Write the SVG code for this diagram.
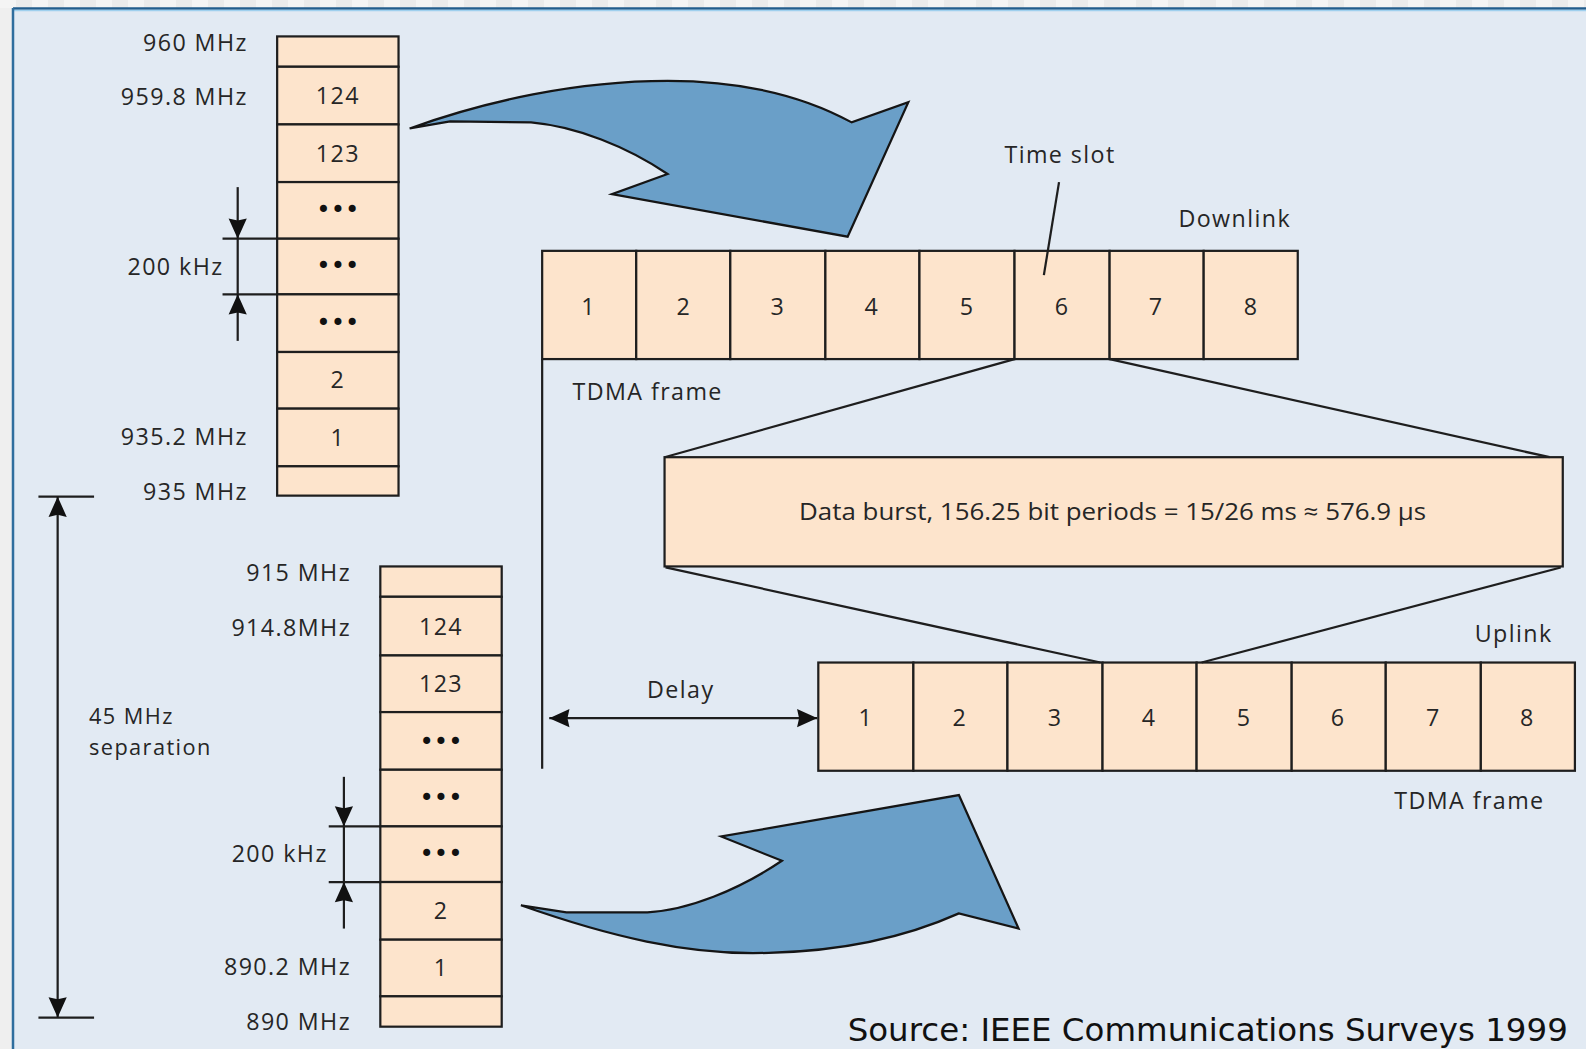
<svg xmlns="http://www.w3.org/2000/svg" width="1586" height="1049" viewBox="0 0 1586 1049">
<defs>
<pattern id="chk" x="0" y="0" width="32" height="8" patternUnits="userSpaceOnUse">
<rect x="0" y="0" width="16" height="8" fill="#f4f4f4"/>
<rect x="16" y="0" width="16" height="8" fill="#ebebeb"/>
</pattern>
<marker id="ah" viewBox="-22 -11 22 22" refX="0" refY="0" markerWidth="22" markerHeight="22" markerUnits="userSpaceOnUse" orient="auto-start-reverse">
<path d="M0,0 L-20,-9 L-18,0 L-20,9 Z" fill="#111"/>
</marker>
</defs>
<style>
.cell{fill:#fde4cc;stroke:#1e1e1e;stroke-width:2.2}
.ln{stroke:#1e1e1e;stroke-width:2.2;fill:none}
.t{font-family:"Open Sans","Noto Sans","Liberation Sans",sans-serif;font-size:23px;letter-spacing:1.4px;fill:#262626}
.sm{font-size:21.5px}
.c{text-anchor:middle}
.e{text-anchor:end}
.dots{font-family:"DejaVu Sans",sans-serif;font-size:24px;fill:#111;text-anchor:middle}
.big{fill:#6a9fc8;stroke:#151515;stroke-width:2.2;stroke-linejoin:miter}
.src{font-family:"DejaVu Sans","Liberation Sans",sans-serif;font-size:32px;fill:#111}
</style>
<rect x="0" y="0" width="1586" height="1049" fill="#efefef"/>
<rect x="0" y="0" width="1586" height="8" fill="url(#chk)"/>
<rect x="13" y="8" width="1573" height="1041" fill="#e2eaf3"/>
<line x1="13" y1="8.5" x2="1586" y2="8.5" stroke="#235d8c" stroke-width="2.5"/>
<line x1="13" y1="10.5" x2="1586" y2="10.5" stroke="#9fd0ee" stroke-width="1.5"/>
<line x1="13" y1="8" x2="13" y2="1049" stroke="#2f6e9e" stroke-width="2.5"/>

<g transform="scale(1.0115)">
<g id="downlink-channels">
<rect class="cell" x="274" y="36" width="120" height="30"/>
<rect class="cell" x="274" y="66" width="120" height="57"/>
<rect class="cell" x="274" y="123" width="120" height="57"/>
<rect class="cell" x="274" y="180" width="120" height="56"/>
<rect class="cell" x="274" y="236" width="120" height="55"/>
<rect class="cell" x="274" y="291" width="120" height="57"/>
<rect class="cell" x="274" y="348" width="120" height="56"/>
<rect class="cell" x="274" y="404" width="120" height="57"/>
<rect class="cell" x="274" y="461" width="120" height="29"/>
<text class="t c" x="334" y="103">124</text>
<text class="t c" x="334" y="160">123</text>
<text class="dots" x="334" y="216">•••</text>
<text class="dots" x="334" y="271">•••</text>
<text class="dots" x="334" y="327">•••</text>
<text class="t c" x="334" y="384">2</text>
<text class="t c" x="334" y="441">1</text>
<text class="t e" x="245" y="50">960 MHz</text>
<text class="t e" x="245" y="104">959.8 MHz</text>
<text class="t e" x="221" y="272">200 kHz</text>
<text class="t e" x="245" y="440">935.2 MHz</text>
<text class="t e" x="245" y="494">935 MHz</text>
<line class="ln" x1="220" y1="236" x2="274" y2="236"/>
<line class="ln" x1="220" y1="291" x2="274" y2="291"/>
<line class="ln" x1="235" y1="185" x2="235" y2="236" marker-end="url(#ah)"/>
<line class="ln" x1="235" y1="236" x2="235" y2="291"/>
<line class="ln" x1="235" y1="337" x2="235" y2="291" marker-end="url(#ah)"/>
</g>

<g id="uplink-channels">
<rect class="cell" x="376" y="560" width="120" height="30"/>
<rect class="cell" x="376" y="590" width="120" height="58"/>
<rect class="cell" x="376" y="648" width="120" height="56"/>
<rect class="cell" x="376" y="704" width="120" height="57"/>
<rect class="cell" x="376" y="761" width="120" height="56"/>
<rect class="cell" x="376" y="817" width="120" height="55"/>
<rect class="cell" x="376" y="872" width="120" height="57"/>
<rect class="cell" x="376" y="929" width="120" height="56"/>
<rect class="cell" x="376" y="985" width="120" height="30"/>
<text class="t c" x="436" y="628">124</text>
<text class="t c" x="436" y="684">123</text>
<text class="dots" x="436" y="741">•••</text>
<text class="dots" x="436" y="797">•••</text>
<text class="dots" x="436" y="852">•••</text>
<text class="t c" x="436" y="909">2</text>
<text class="t c" x="436" y="965">1</text>
<text class="t e" x="347" y="574">915 MHz</text>
<text class="t e" x="347" y="629">914.8MHz</text>
<text class="t e" x="324" y="852">200 kHz</text>
<text class="t e" x="347" y="964">890.2 MHz</text>
<text class="t e" x="347" y="1018">890 MHz</text>
<line class="ln" x1="325" y1="817" x2="376" y2="817"/>
<line class="ln" x1="325" y1="872" x2="376" y2="872"/>
<line class="ln" x1="340" y1="768" x2="340" y2="817" marker-end="url(#ah)"/>
<line class="ln" x1="340" y1="817" x2="340" y2="872"/>
<line class="ln" x1="340" y1="918" x2="340" y2="872" marker-end="url(#ah)"/>
</g>

<g id="separation">
<line class="ln" x1="38" y1="491" x2="93" y2="491"/>
<line class="ln" x1="38" y1="1006" x2="93" y2="1006"/>
<line class="ln" x1="57" y1="491" x2="57" y2="1006" marker-start="url(#ah)" marker-end="url(#ah)"/>
<text class="t sm" x="88" y="716">45 MHz</text>
<text class="t sm" x="88" y="746">separation</text>
</g>

<g id="downlink-frame">
<rect class="cell" x="536" y="248" width="93" height="107"/>
<rect class="cell" x="629" y="248" width="93" height="107"/>
<rect class="cell" x="722" y="248" width="94" height="107"/>
<rect class="cell" x="816" y="248" width="93" height="107"/>
<rect class="cell" x="909" y="248" width="94" height="107"/>
<rect class="cell" x="1003" y="248" width="94" height="107"/>
<rect class="cell" x="1097" y="248" width="93" height="107"/>
<rect class="cell" x="1190" y="248" width="93" height="107"/>
<text class="t c" x="582" y="311">1</text>
<text class="t c" x="676" y="311">2</text>
<text class="t c" x="769" y="311">3</text>
<text class="t c" x="862" y="311">4</text>
<text class="t c" x="956" y="311">5</text>
<text class="t c" x="1050" y="311">6</text>
<text class="t c" x="1143" y="311">7</text>
<text class="t c" x="1237" y="311">8</text>
<text class="t" x="1165" y="224">Downlink</text>
<text class="t" x="566" y="395">TDMA frame</text>
<text class="t c" x="1048" y="161">Time slot</text>
<line class="ln" x1="1047" y1="180" x2="1032" y2="272" stroke-width="1.8"/>
</g>

<g id="data-burst">
<rect class="cell" x="657" y="452" width="888" height="108"/>
<text class="t c" x="1100" y="514" style="letter-spacing:0" textLength="620" lengthAdjust="spacingAndGlyphs">Data burst, 156.25 bit periods = 15/26 ms ≈ 576.9 µs</text>
</g>

<g id="uplink-frame">
<rect class="cell" x="809" y="655" width="94" height="107"/>
<rect class="cell" x="903" y="655" width="93" height="107"/>
<rect class="cell" x="996" y="655" width="94" height="107"/>
<rect class="cell" x="1090" y="655" width="93" height="107"/>
<rect class="cell" x="1183" y="655" width="94" height="107"/>
<rect class="cell" x="1277" y="655" width="93" height="107"/>
<rect class="cell" x="1370" y="655" width="94" height="107"/>
<rect class="cell" x="1464" y="655" width="93" height="107"/>
<text class="t c" x="856" y="718">1</text>
<text class="t c" x="949" y="718">2</text>
<text class="t c" x="1043" y="718">3</text>
<text class="t c" x="1136" y="718">4</text>
<text class="t c" x="1230" y="718">5</text>
<text class="t c" x="1323" y="718">6</text>
<text class="t c" x="1417" y="718">7</text>
<text class="t c" x="1510" y="718">8</text>
<text class="t e" x="1535" y="635">Uplink</text>
<text class="t e" x="1527" y="800">TDMA frame</text>
</g>

<g id="connectors">
<path class="big" d="M405,127 C480,100 570,80 660,80 C740,80 800,98 842,121 L898,101 L838,234 L605,192 L660,172 C620,145 570,125 525,121 L445,120 Z"/>
<path class="big" d="M515,895 C600,925 680,945 760,942 C850,940 910,920 948,903 L1007,918 L948,786 L713,827 L773,851 C730,880 680,900 640,902 L560,902 Z"/>
<line class="ln" x1="1003" y1="355" x2="657" y2="452"/>
<line class="ln" x1="1097" y1="355" x2="1532" y2="452"/>
<line class="ln" x1="658" y1="561" x2="1088" y2="655"/>
<line class="ln" x1="1543" y1="561" x2="1188" y2="655"/>
<line class="ln" x1="536" y1="355" x2="536" y2="760"/>
<line class="ln" x1="543" y1="710" x2="808" y2="710" marker-start="url(#ah)" marker-end="url(#ah)"/>
<text class="t c" x="673" y="690">Delay</text>
</g>

<text class="src" x="838" y="1029" textLength="712" lengthAdjust="spacingAndGlyphs">Source: IEEE Communications Surveys 1999</text>
</g>
</svg>
